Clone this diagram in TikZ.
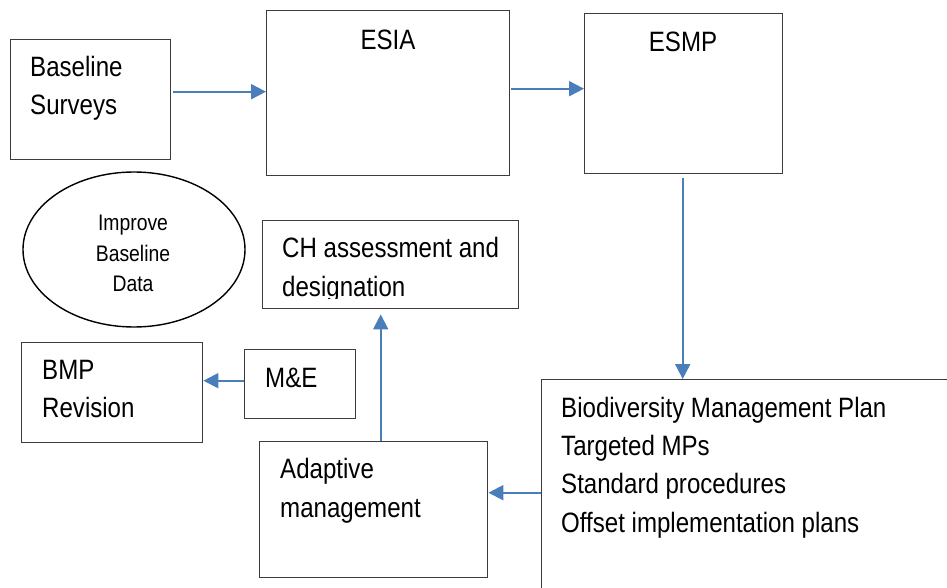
\documentclass[tikz,border=0pt]{standalone}
\usepackage{fontspec}
\setmainfont[FakeStretch=0.86]{Liberation Sans}
\usetikzlibrary{arrows.meta,shapes.geometric}
\definecolor{boxgray}{RGB}{60,60,60}
\definecolor{arrblue}{RGB}{74,126,187}
\begin{document}
\begin{tikzpicture}[x=1pt,y=-1pt,
  box/.style={draw=boxgray,line width=1.4pt,anchor=north west,inner sep=0pt,fill=none},
  txt/.style={inner sep=0pt,anchor=base west,font=\fontsize{28}{34}\selectfont},
  ctxt/.style={inner sep=0pt,anchor=base,font=\fontsize{28}{34}\selectfont},
  etxt/.style={inner sep=0pt,anchor=base,font=\fontsize{22.5}{26}\selectfont},
  arr/.style={draw=arrblue,line width=2pt,-{Triangle[length=15pt,width=15pt]}}]
\useasboundingbox (0,0) rectangle (947,588);
% boxes
\node[box,minimum width=160pt,minimum height=120pt] (base) at (10,39) {};
\node[box,minimum width=243pt,minimum height=165pt] (esia) at (266,10) {};
\node[box,minimum width=198pt,minimum height=160pt] (esmp) at (584,13) {};
\node[draw=black,line width=1.4pt,ellipse,minimum width=222pt,minimum height=155pt,inner sep=0pt] (ell) at (134,249.5) {};
\node[box,minimum width=256pt,minimum height=88pt] (ch) at (262,220) {};
\node[box,minimum width=181pt,minimum height=100pt] (bmp) at (21,342) {};
\node[box,minimum width=111pt,minimum height=69pt] (me) at (244,349) {};
\node[box,minimum width=228pt,minimum height=136pt] (adapt) at (259,441) {};
\node[box,minimum width=430pt,minimum height=230pt] (big) at (541,379) {};
% texts
\node[txt] (t1a) at (30,77) {Baseline};
\node[txt] (t1b) at (30,115) {Surveys};
\node[ctxt] (t2) at (388,50) {ESIA};
\node[ctxt] (t3) at (683,52) {ESMP};
\node[etxt] (t4a) at (133,230) {Improve};
\node[etxt] (t4b) at (133,261) {Baseline};
\node[etxt] (t4c) at (133,291) {Data};
\node[txt] (t5a) at (282,257) {CH assessment and};
\begin{scope}
\clip (262,220) rectangle (518,298);
\node[txt] (t5b) at (282,296) {designation};
\end{scope}
\node[txt] (t6a) at (42,379) {BMP};
\node[txt] (t6b) at (42,417) {Revision};
\node[txt] (t7) at (265,387) {M\&E};
\node[txt] (t8a) at (280,478) {Adaptive};
\node[txt] (t8b) at (280,517) {management};
\node[txt] (t9a) at (561,417) {Biodiversity Management Plan};
\node[txt] (t9b) at (561,455) {Targeted MPs};
\node[txt] (t9c) at (561,493) {Standard procedures};
\node[txt] (t9d) at (561,532) {Offset implementation plans};
% connectors
\draw[arr] ([xshift=2pt,yshift=8pt]base.east) -- ([yshift=8pt]base.east -| esia.west);
\draw[arr] ([xshift=1pt,yshift=4.5pt]esia.east) -- ([yshift=4.5pt]esia.east -| esmp.west);
\draw[arr] ([xshift=-1pt,yshift=-4pt]esmp.south) -- ([xshift=-1pt]esmp.south |- big.north);
\draw[arr] ([yshift=17pt]adapt.east -| big.west) -- ([yshift=17pt]adapt.east);
\draw[arr] ([yshift=3.5pt]me.west) -- ([yshift=3.5pt]me.west -| bmp.east);
\draw[arr] ([xshift=7pt]adapt.north) -- ([xshift=7pt,yshift=-5pt]adapt.north |- ch.south);
\end{tikzpicture}
\end{document}
